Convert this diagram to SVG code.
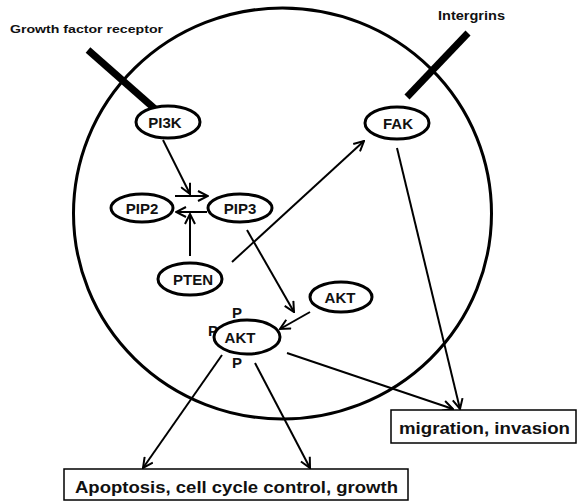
<svg xmlns="http://www.w3.org/2000/svg" width="578" height="501" viewBox="0 0 578 501">
<style>
.node ellipse{fill:#fff;stroke:#000;stroke-width:3}
.lbl{font-family:"Liberation Sans",Arial,sans-serif;font-weight:bold;font-size:15px;fill:#111;text-anchor:middle}
.big{font-family:"Liberation Sans",Arial,sans-serif;font-weight:bold;fill:#111}
.conn line{stroke:#000;stroke-width:2;fill:none}
.arr{marker-end:url(#ah)}
.box rect{fill:#fff;stroke:#000;stroke-width:1.5}
.rec{stroke:#000;stroke-width:7;stroke-linecap:butt}
</style>
<defs>
<marker id="ah" viewBox="0 0 12 12" refX="11" refY="6" markerWidth="12" markerHeight="12" markerUnits="userSpaceOnUse" orient="auto">
<path d="M1,1 L11,6 L1,11" fill="none" stroke="#000" stroke-width="2"/>
</marker>
</defs>
<rect width="578" height="501" fill="#fff"/>
<g id="cell">
<ellipse cx="282.5" cy="213.5" rx="209" ry="205.5" fill="none" stroke="#000" stroke-width="3"/>
</g>
<g id="receptors">
<line class="rec" x1="88" y1="50" x2="155" y2="109"/>
<line class="rec" x1="468" y1="33" x2="407" y2="97"/>
<text class="big" x="10" y="33" font-size="11" textLength="153" lengthAdjust="spacingAndGlyphs">Growth factor receptor</text>
<text class="big" x="438" y="20" font-size="12" textLength="67" lengthAdjust="spacingAndGlyphs">Intergrins</text>
</g>
<g class="conn" id="connectors">
<line class="arr" x1="163" y1="140" x2="190" y2="194"/>
<line class="arr" x1="175" y1="196" x2="208" y2="196"/>
<line class="arr" x1="207" y1="212" x2="176" y2="212"/>
<line class="arr" x1="190" y1="256" x2="190" y2="214"/>
<line class="arr" x1="232" y1="262" x2="364" y2="141"/>
<line class="arr" x1="247" y1="230" x2="294" y2="312"/>
<line class="arr" x1="310" y1="312" x2="280" y2="329"/>
<line class="arr" x1="222" y1="355" x2="143" y2="468"/>
<line class="arr" x1="255" y1="363" x2="310" y2="468"/>
<line class="arr" x1="287" y1="353" x2="453" y2="409"/>
<line class="arr" x1="397" y1="148" x2="460" y2="409"/>
</g>
<g class="node" id="PI3K"><ellipse cx="168" cy="122" rx="32" ry="16"/><text class="lbl" x="165" y="128">PI3K</text></g>
<g class="node" id="FAK"><ellipse cx="397" cy="123" rx="32" ry="16"/><text class="lbl" x="398" y="129">FAK</text></g>
<g class="node" id="PIP2"><ellipse cx="142" cy="208" rx="31" ry="14"/><text class="lbl" x="142" y="214">PIP2</text></g>
<g class="node" id="PIP3"><ellipse cx="240" cy="208" rx="32" ry="14"/><text class="lbl" x="240" y="214">PIP3</text></g>
<g class="node" id="PTEN"><ellipse cx="190" cy="279" rx="32" ry="16"/><text class="lbl" x="193" y="285">PTEN</text></g>
<g class="node" id="AKT"><ellipse cx="341" cy="297" rx="31" ry="15"/><text class="lbl" x="340" y="303">AKT</text></g>
<g class="node" id="AKTP">
<text class="lbl" x="213" y="336">P</text>
<ellipse cx="247" cy="337" rx="33" ry="17"/>
<text class="lbl" x="240" y="343">AKT</text>
<text class="lbl" x="237" y="318">P</text>
<text class="lbl" x="237" y="368">P</text>
</g>
<g class="box" id="migration"><rect x="391" y="410" width="185" height="33"/><text class="big" x="399" y="434" font-size="17" textLength="171" lengthAdjust="spacingAndGlyphs">migration, invasion</text></g>
<g class="box" id="apoptosis"><rect x="64" y="469" width="344" height="31"/><text class="big" x="75" y="493" font-size="17" textLength="323" lengthAdjust="spacingAndGlyphs">Apoptosis, cell cycle control, growth</text></g>
</svg>
